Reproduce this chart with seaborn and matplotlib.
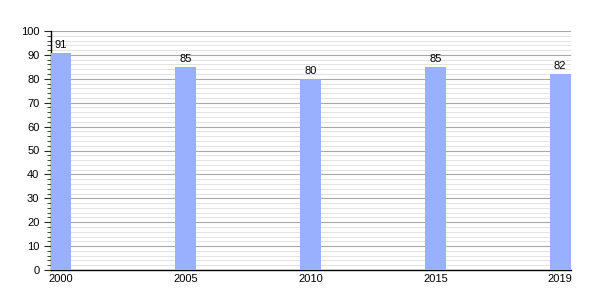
import matplotlib
matplotlib.use("Agg")
import matplotlib.pyplot as plt
import seaborn as sns
import pandas as pd
from matplotlib.ticker import MultipleLocator

years = ["2000", "2005", "2010", "2015", "2019"]
values = [91, 85, 80, 85, 82]

sns.set_style("white")
plt.rcParams['font.family'] = ['Liberation Sans', 'DejaVu Sans']

df = pd.DataFrame({"year": years, "value": values})

fig = plt.figure(figsize=(6, 3), dpi=100)
ax = fig.add_axes([50.5/600, 1 - 270/300, 520/600, 239/300])

w = 0.165
sns.barplot(data=df, x="year", y="value", color="#99b0ff", saturation=1,
            width=w, linewidth=0, ax=ax, zorder=3)

ax.set_xlim(-w/2, len(years) - 1 + w/2)
ax.set_ylim(0, 100)
ax.yaxis.set_major_locator(MultipleLocator(10))
ax.yaxis.set_minor_locator(MultipleLocator(2))
ax.grid(which="major", axis="y", color="#a8a8a8", linewidth=0.8, zorder=0)
ax.grid(which="minor", axis="y", color="#dddddd", linewidth=0.6, zorder=0)
ax.set_axisbelow(True)

for s in ["top", "right"]:
    ax.spines[s].set_visible(False)
ax.spines["left"].set_color("black")
ax.spines["bottom"].set_color("black")
ax.spines["left"].set_linewidth(1.0)
ax.spines["bottom"].set_linewidth(1.0)

ax.tick_params(axis="y", which="major", length=5, width=0.8, labelsize=8, left=True, pad=3,
               labelcolor="black")
ax.tick_params(axis="y", which="minor", length=3, width=0.6, left=True)
ax.tick_params(axis="x", length=0, labelsize=8, pad=3, labelcolor="black")
ax.set_xlabel("")
ax.set_ylabel("")

for c in ax.containers:
    ax.bar_label(c, labels=[str(v) for v in values], fontsize=8, padding=2, color="black")

fig.savefig("out.png", dpi=100)
